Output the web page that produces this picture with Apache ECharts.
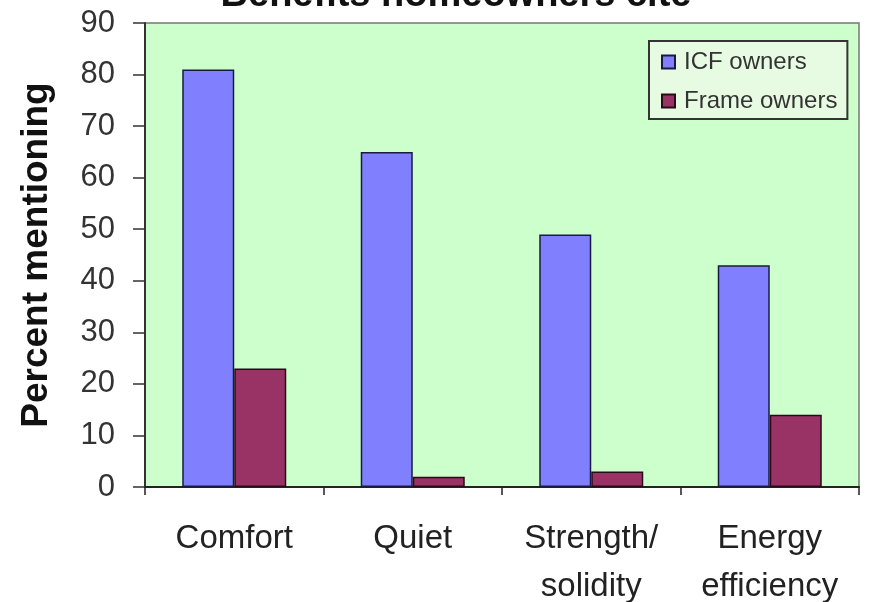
<!DOCTYPE html>
<html>
<head>
<meta charset="utf-8">
<script src="https://cdn.jsdelivr.net/npm/echarts@6/dist/echarts.min.js"></script>
<style>
  html, body { margin: 0; padding: 0; background: #ffffff; }
  #chart { width: 869px; height: 602px; }
</style>
</head>
<body>
<div id="chart"></div>
<script>
// Survey results: share of owners mentioning each benefit
const categories = ['Comfort', 'Quiet', 'Strength/\nsolidity', 'Energy\nefficiency'];
const icfOwners = [81, 65, 49, 43];
const frameOwners = [23, 2, 3, 14];
const yTicks = { min: 0, max: 90, interval: 10 };

const FONT = '"Liberation Sans", Arial, sans-serif';

const chart = echarts.init(document.getElementById('chart'), null, { renderer: 'canvas' });

chart.setOption({
  backgroundColor: '#ffffff',
  animation: false,
  title: {
    text: 'Benefits homeowners cite',
    left: 451,
    textAlign: 'center',
    top: -28,
    textStyle: { fontFamily: FONT, fontSize: 38, fontWeight: 'bold', color: '#111' }
  },
  legend: {
    orient: 'vertical',
    left: 649,
    top: 41,
    padding: [8, 10, 5, 12],
    itemGap: 13,
    itemWidth: 13,
    itemHeight: 13,
    backgroundColor: '#e6fbe2',
    borderColor: '#333',
    borderWidth: 2,
    borderRadius: 0,
    icon: 'rect',
    data: ['ICF owners', 'Frame owners'],
    textStyle: { fontFamily: FONT, fontSize: 24, lineHeight: 26, color: '#333', padding: [0, 0, 0, 4] }
  },
  grid: {
    left: 145,
    right: 10,
    top: 23,
    bottom: 115,
    show: true,
    backgroundColor: '#ccffcc',
    borderColor: '#777',
    borderWidth: 1.5,
    containLabel: false,
    outerBoundsMode: 'none'
  },
  xAxis: {
    type: 'category',
    data: categories,
    axisLine: { lineStyle: { color: '#222', width: 2 } },
    axisTick: { show: true, alignWithLabel: false, length: 8, lineStyle: { color: '#222', width: 1.5 } },
    axisLabel: {
      fontFamily: FONT,
      fontSize: 33,
      color: '#222',
      margin: 28,
      lineHeight: 48,
      interval: 0
    }
  },
  yAxis: {
    type: 'value',
    min: yTicks.min,
    max: yTicks.max,
    interval: yTicks.interval,
    name: 'Percent mentioning',
    nameLocation: 'middle',
    nameGap: 90,
    nameTextStyle: { fontFamily: FONT, fontSize: 37, fontWeight: 'bold', color: '#111' },
    splitLine: { show: false },
    axisLine: { show: true, lineStyle: { color: '#333', width: 2 } },
    axisTick: { show: true, length: 12, lineStyle: { color: '#333', width: 1.5 } },
    axisLabel: { fontFamily: FONT, fontSize: 31, color: '#333', margin: 30 }
  },
  series: [
    {
      name: 'ICF owners',
      type: 'bar',
      data: icfOwners,
      barWidth: 52,
      barGap: '0%',
      itemStyle: { color: '#8080ff', borderColor: '#1a1a40', borderWidth: 1.5 }
    },
    {
      name: 'Frame owners',
      type: 'bar',
      data: frameOwners,
      barWidth: 52,
      barGap: '0%',
      itemStyle: { color: '#993366', borderColor: '#2a0a18', borderWidth: 1.5 }
    }
  ]
});
</script>
</body>
</html>
